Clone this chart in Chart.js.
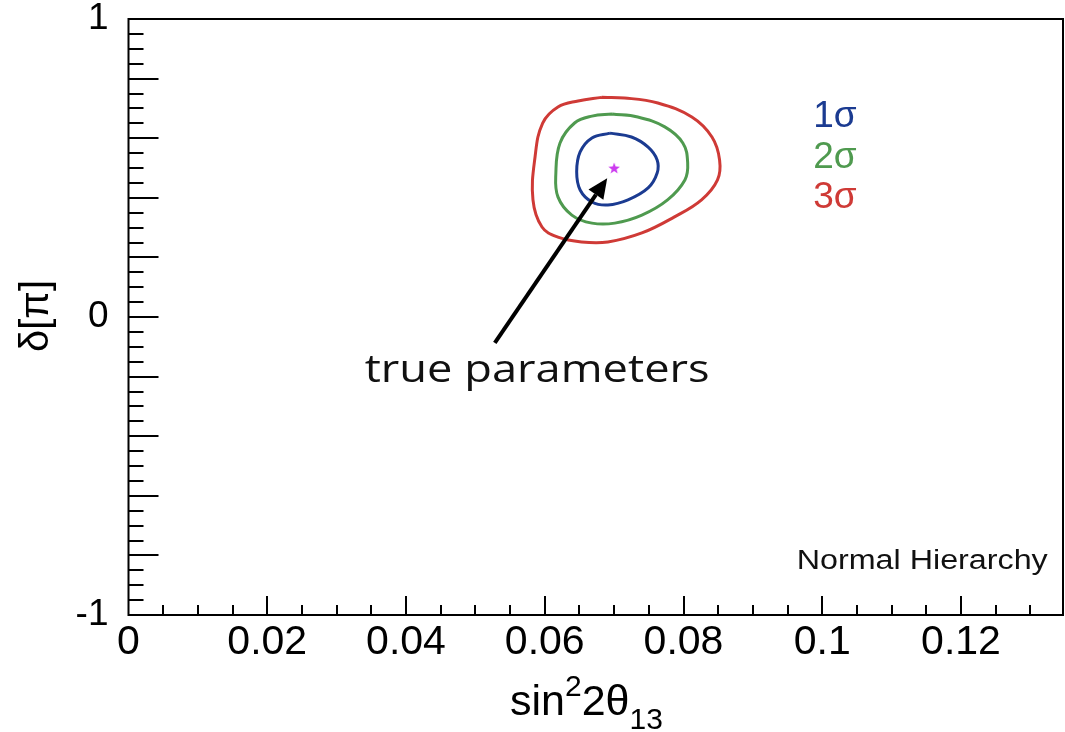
<!DOCTYPE html>
<html>
<head>
<meta charset="utf-8">
<script src="https://cdn.jsdelivr.net/npm/chart.js@4"></script>
<style>
  html, body { margin: 0; padding: 0; background: #fff; }
  #wrap { width: 1065px; height: 732px; }
</style>
</head>
<body>
<div id="wrap"><canvas id="chart" width="1065" height="732"></canvas></div>
<script>
// Contour data (x = sin^2 2theta13, y = delta / pi)
const sigma1X = [0.0694, 0.0725, 0.0749, 0.0762, 0.0762, 0.0749, 0.0720, 0.0691, 0.0668, 0.0651, 0.0646, 0.0651, 0.0668, 0.0694];
const sigma1Y = [0.617, 0.604, 0.570, 0.527, 0.483, 0.433, 0.393, 0.376, 0.386, 0.426, 0.487, 0.554, 0.601, 0.617];

const sigma2X = [0.0697, 0.0734, 0.0773, 0.0799, 0.0806, 0.0802, 0.0777, 0.0740, 0.0701, 0.0668, 0.0639, 0.0619, 0.0616, 0.0622, 0.0643, 0.0668, 0.0697];
const sigma2Y = [0.681, 0.671, 0.638, 0.584, 0.517, 0.460, 0.393, 0.342, 0.315, 0.315, 0.342, 0.403, 0.483, 0.584, 0.651, 0.674, 0.681];

const sigma3X = [0.0682, 0.0715, 0.0763, 0.0812, 0.0841, 0.0852, 0.0849, 0.0826, 0.0787, 0.0740, 0.0691, 0.0653, 0.0619, 0.0596, 0.0583, 0.0586, 0.0597, 0.0619, 0.0648, 0.0682];
const sigma3Y = [0.737, 0.735, 0.718, 0.671, 0.604, 0.527, 0.460, 0.393, 0.336, 0.282, 0.252, 0.252, 0.268, 0.302, 0.393, 0.537, 0.651, 0.705, 0.725, 0.737];

// true parameters
const trueX = [0.07];
const trueY = [0.5];

// axes
const xMin = 0, xMax = 0.1347, xStep = 0.02, xMinor = 0.005;
const yMin = -1, yMax = 1, yStep = 1, yMajor = 0.2, yMinor = 0.05;

// legend labels
const sigmaLabels = ['1σ', '2σ', '3σ'];
const sigmaColors = ['#1b3b91', '#4f9a4f', '#cf3a36'];

// annotation anchors in data units
const arrowTail = { x: 0.0528, y: -0.087 };
const arrowTip = { x: 0.0690, y: 0.466 };
const noteText = { x: 0.0589, y: -0.218, text: 'true parameters' };
const legendPos = { x: 0.0987, y: [0.671, 0.534, 0.399] };
const hierPos = { x: 0.1325, y: -0.819, text: 'Normal Hierarchy' };

function toPoints(xs, ys) {
    return xs.map((x, i) => ({ x: x, y: ys[i] }));
}

// filled five-point star for the marker
function makeStar(size, color) {
    const c = document.createElement('canvas');
    c.width = size; c.height = size;
    const g = c.getContext('2d');
    const r = size / 2, ri = r * 0.42;
    g.beginPath();
    for (let i = 0; i < 10; i++) {
        const rad = i % 2 === 0 ? r : ri;
        const a = -Math.PI / 2 + i * Math.PI / 5;
        g.lineTo(r + rad * Math.cos(a), r + rad * Math.sin(a) + 0.6);
    }
    g.closePath();
    g.fillStyle = color;
    g.fill();
    return c;
}

// text stretched to a given width (x = centre)
function fillStretched(ctx, text, x, y, width) {
    const w = ctx.measureText(text).width;
    ctx.save();
    ctx.translate(x, y);
    ctx.scale(width / w, 1);
    ctx.textAlign = 'center';
    ctx.fillText(text, 0, 0);
    ctx.restore();
}

// frame, inner ticks, axis titles and annotations
const decorPlugin = {
    id: 'decor',
    afterDatasetsDraw(chart) {
        const ctx = chart.ctx;
        const area = chart.chartArea;
        const xs = chart.scales.x, ys = chart.scales.y;
        ctx.save();
        ctx.strokeStyle = '#000';
        ctx.lineWidth = 2;

        // ticks on the left axis
        ctx.beginPath();
        const nY = Math.round((yMax - yMin) / yMinor);
        for (let i = 1; i < nY; i++) {
            const v = yMin + i * yMinor;
            const major = Math.abs(v / yMajor - Math.round(v / yMajor)) < 1e-6;
            const py = Math.round(ys.getPixelForValue(v));
            ctx.moveTo(area.left, py);
            ctx.lineTo(area.left + (major ? 30 : 15), py);
        }
        // ticks on the bottom axis
        for (let v = xMinor; v < xMax - 1e-9; v += xMinor) {
            const major = Math.abs(v / xStep - Math.round(v / xStep)) < 1e-6;
            const px = Math.round(xs.getPixelForValue(v));
            ctx.moveTo(px, area.bottom);
            ctx.lineTo(px, area.bottom - (major ? 19 : 10));
        }
        ctx.stroke();
        ctx.strokeRect(area.left, area.top, area.right - area.left, area.bottom - area.top);

        // arrow
        const tx = xs.getPixelForValue(arrowTail.x), ty = ys.getPixelForValue(arrowTail.y);
        const hx = xs.getPixelForValue(arrowTip.x), hy = ys.getPixelForValue(arrowTip.y);
        const ang = Math.atan2(hy - ty, hx - tx);
        const headLen = 20, headW = 9;
        const bx = hx - headLen * Math.cos(ang), by = hy - headLen * Math.sin(ang);
        ctx.lineWidth = 4;
        ctx.beginPath();
        ctx.moveTo(tx, ty);
        ctx.lineTo(bx, by);
        ctx.stroke();
        ctx.beginPath();
        ctx.moveTo(hx, hy);
        ctx.lineTo(bx + headW * Math.sin(ang), by - headW * Math.cos(ang));
        ctx.lineTo(bx - headW * Math.sin(ang), by + headW * Math.cos(ang));
        ctx.closePath();
        ctx.fillStyle = '#000';
        ctx.fill();

        // "true parameters"
        ctx.font = '39px "Open Sans"';
        ctx.textBaseline = 'alphabetic';
        ctx.fillStyle = '#111';
        fillStretched(ctx, noteText.text, xs.getPixelForValue(noteText.x), ys.getPixelForValue(noteText.y), 345);

        // sigma labels
        ctx.font = '37px "Liberation Sans"';
        ctx.textAlign = 'left';
        ctx.textBaseline = 'middle';
        sigmaLabels.forEach((lab, i) => {
            ctx.fillStyle = sigmaColors[i];
            ctx.fillText(lab, xs.getPixelForValue(legendPos.x), ys.getPixelForValue(legendPos.y[i]));
        });

        // hierarchy label
        ctx.font = '27px "Liberation Sans"';
        ctx.fillStyle = '#111';
        fillStretched(ctx, hierPos.text, xs.getPixelForValue(hierPos.x) - 125.5, ys.getPixelForValue(hierPos.y), 251);

        // y title
        ctx.save();
        ctx.translate(37, 316);
        ctx.rotate(-Math.PI / 2);
        ctx.textAlign = 'center';
        ctx.font = '40px "Liberation Sans"';
        ctx.fillStyle = '#000';
        ctx.fillText('δ[π]', 0, 0);
        ctx.restore();

        // x title sin^2 2theta_13
        ctx.textAlign = 'left';
        ctx.textBaseline = 'alphabetic';
        ctx.fillStyle = '#000';
        let cx = 510;
        const base = 715;
        const parts = [
            ['sin', 43, 0], ['2', 30, -19], ['2θ', 43, 0], ['13', 30, 14]
        ];
        parts.forEach(p => {
            ctx.font = p[1] + 'px "Liberation Sans"';
            ctx.fillText(p[0], cx, base + p[2]);
            cx += ctx.measureText(p[0]).width;
        });
        ctx.restore();
    }
};

Chart.defaults.font.family = '"Liberation Sans", Arial, sans-serif';
Chart.defaults.color = '#000';

const lineSet = (label, xs, ys, color) => ({
    label: label,
    data: toPoints(xs, ys),
    showLine: true,
    borderColor: color,
    borderWidth: 3,
    pointRadius: 0,
    tension: 0.4,
    fill: false
});

new Chart(document.getElementById('chart'), {
    type: 'scatter',
    data: {
        datasets: [
            lineSet('3σ', sigma3X, sigma3Y, sigmaColors[2]),
            lineSet('2σ', sigma2X, sigma2Y, sigmaColors[1]),
            lineSet('1σ', sigma1X, sigma1Y, sigmaColors[0]),
            {
                label: 'true',
                data: toPoints(trueX, trueY),
                pointStyle: makeStar(12, '#cc3bef'),
                pointRadius: 6
            }
        ]
    },
    options: {
        responsive: false,
        animation: false,
        devicePixelRatio: 1,
        layout: { autoPadding: false, padding: { top: 19, right: 2, left: 0, bottom: 0 } },
        plugins: { legend: { display: false }, tooltip: { enabled: false } },
        scales: {
            x: {
                type: 'linear',
                min: xMin,
                max: xMax,
                grid: { drawOnChartArea: false, drawTicks: true, tickLength: 7, color: 'transparent' },
                border: { display: false },
                ticks: {
                    stepSize: xStep,
                    includeBounds: false,
                    padding: 0,
                    maxRotation: 0,
                    font: { size: 41, lineHeight: 1 },
                    callback: v => String(+v.toFixed(3))
                },
                afterFit: s => {
                    s.height = 117;
                    s.paddingLeft = 0;
                    s.paddingRight = 0;
                }
            },
            y: {
                type: 'linear',
                min: yMin,
                max: yMax,
                grid: { drawOnChartArea: false, drawTicks: true, tickLength: 20, color: 'transparent' },
                border: { display: false },
                ticks: {
                    stepSize: yStep,
                    includeBounds: false,
                    padding: 0,
                    font: { size: 37, lineHeight: 1 },
                    callback: v => String(v)
                },
                afterFit: s => {
                    s.width = 128.5;
                    s.paddingTop = 0;
                    s.paddingBottom = 0;
                }
            }
        }
    },
    plugins: [decorPlugin]
});
</script>
</body>
</html>
